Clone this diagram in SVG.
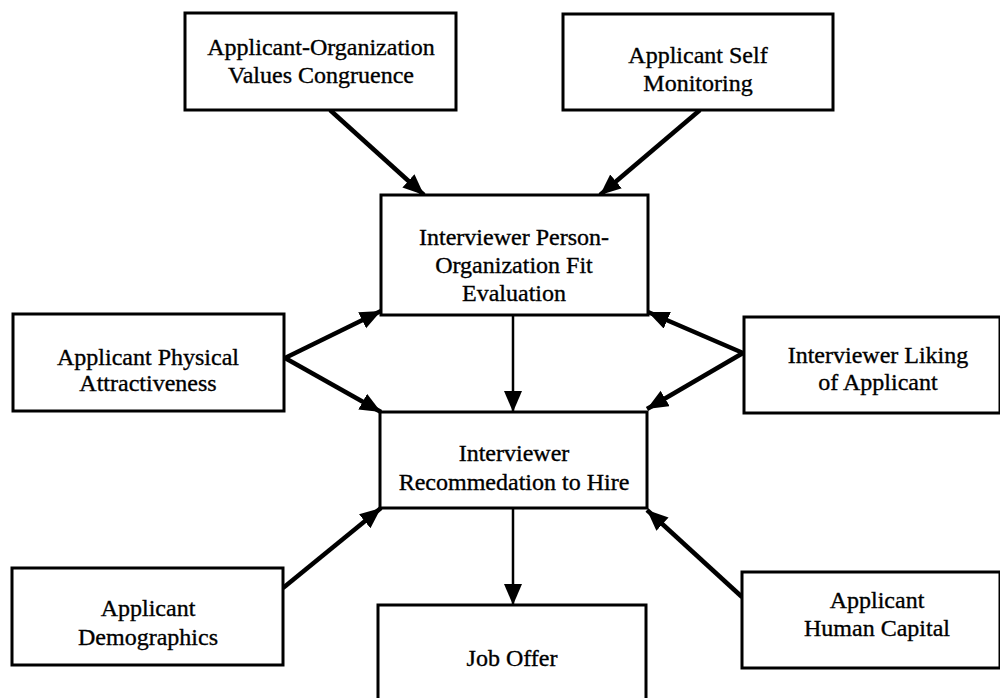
<svg xmlns="http://www.w3.org/2000/svg" width="1000" height="698" viewBox="0 0 1000 698">
<style>
.box{fill:#fff;stroke:#000;stroke-width:3}
.t{font-family:"Liberation Serif","Times New Roman",serif;font-size:24px;fill:#000;stroke:#000;stroke-width:0.35;text-anchor:middle}
.c{stroke:#000;stroke-width:4.5;fill:none;marker-end:url(#ah)}
.v{stroke:#000;stroke-width:2.5;fill:none;marker-end:url(#ah)}
</style>
<defs>
<marker id="ah" markerUnits="userSpaceOnUse" markerWidth="24" markerHeight="20" refX="21" refY="9" orient="auto">
<path d="M0,0 L21,9 L0,18 Z" fill="#000"/>
</marker>
</defs>
<rect width="1000" height="698" fill="#fff"/>
<g id="connectors">
<line class="c" x1="330" y1="110" x2="424" y2="195"/>
<line class="c" x1="700" y1="110" x2="600" y2="195"/>
<line class="c" x1="285" y1="358" x2="381" y2="311"/>
<line class="c" x1="285" y1="358" x2="381" y2="412"/>
<line class="c" x1="743" y1="353" x2="648" y2="312"/>
<line class="c" x1="743" y1="353" x2="647" y2="409"/>
<line class="v" x1="513" y1="315" x2="513" y2="412"/>
<line class="c" x1="283" y1="588" x2="381" y2="508"/>
<line class="c" x1="742" y1="597" x2="647" y2="510"/>
<line class="v" x1="513" y1="508" x2="513" y2="605"/>
</g>
<g id="n1"><rect class="box" x="185" y="13" width="271" height="97"/><text class="t" x="321" y="55">Applicant-Organization</text><text class="t" x="321" y="83">Values Congruence</text></g>
<g id="n2"><rect class="box" x="563" y="14" width="270" height="96"/><text class="t" x="698" y="63">Applicant Self</text><text class="t" x="698" y="91">Monitoring</text></g>
<g id="n3"><rect class="box" x="381" y="195" width="267" height="120"/><text class="t" x="514" y="245">Interviewer Person-</text><text class="t" x="514" y="273">Organization Fit</text><text class="t" x="514" y="301">Evaluation</text></g>
<g id="n4"><rect class="box" x="380" y="412" width="267" height="96"/><text class="t" x="514" y="461">Interviewer</text><text class="t" x="514" y="490">Recommedation to Hire</text></g>
<g id="n5"><rect class="box" x="13" y="314" width="271" height="97"/><text class="t" x="148" y="365">Applicant Physical</text><text class="t" x="148" y="391">Attractiveness</text></g>
<g id="n6"><rect class="box" x="744" y="317" width="256" height="96"/><text class="t" x="878" y="363">Interviewer Liking</text><text class="t" x="878" y="390">of Applicant</text></g>
<g id="n7"><rect class="box" x="12" y="568" width="271" height="97"/><text class="t" x="148" y="616">Applicant</text><text class="t" x="148" y="645">Demographics</text></g>
<g id="n8"><rect class="box" x="378" y="605" width="268" height="100"/><text class="t" x="512" y="666">Job Offer</text></g>
<g id="n9"><rect class="box" x="742" y="572" width="258" height="96"/><text class="t" x="877" y="608">Applicant</text><text class="t" x="877" y="636">Human Capital</text></g>
</svg>
